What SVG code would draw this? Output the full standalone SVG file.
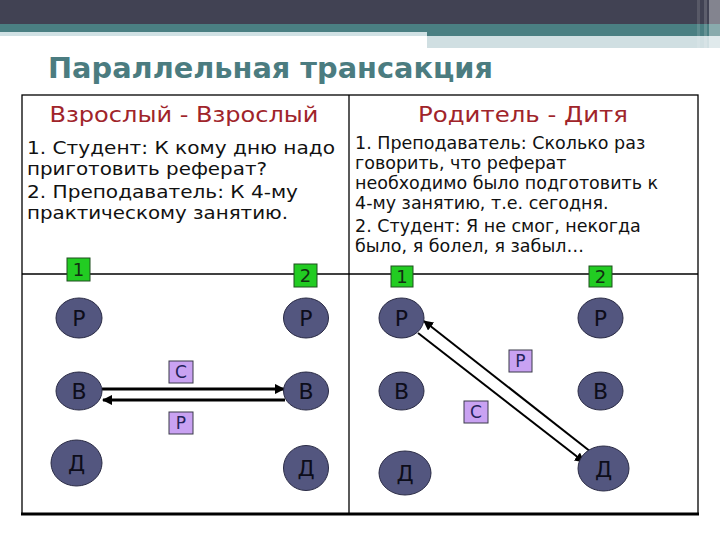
<svg xmlns="http://www.w3.org/2000/svg" width="720" height="540" viewBox="0 0 720 540">
<style>
text{font-family:"DejaVu Sans","Liberation Sans",sans-serif}
.title{font-size:27.5px;font-weight:bold;fill:#4b7c80}
.hd{font-size:21px;fill:#a0242a;text-anchor:middle}
.tl{font-size:18.5px;fill:#111}
.tr{font-size:17.5px;fill:#111}
.grid{stroke:#000;stroke-width:1.3;fill:none}
.node ellipse{fill:#53567f;stroke:#2a2b45;stroke-width:1}
.node text{font-size:22px;fill:#0d0d1a;text-anchor:middle}
.num rect{fill:#22cc22;stroke:#1f4f1f;stroke-width:1}
.num text{font-size:18px;fill:#123012;text-anchor:middle}
.lab rect{fill:#c9a2f2;stroke:#3a3a4a;stroke-width:1}
.lab text{font-size:17px;fill:#23235a;text-anchor:middle}
.thick{stroke:#000;stroke-width:3;fill:none}
.thin{stroke:#000;stroke-width:2;fill:none}
</style>
<defs>
<marker id="ah" viewBox="0 0 10 10" refX="9" refY="5" markerWidth="3.5" markerHeight="3.5" orient="auto-start-reverse" markerUnits="strokeWidth">
<path d="M0,0 L10,5 L0,10 Z" fill="#000"/>
</marker>
<marker id="ah2" viewBox="0 0 10 10" refX="9" refY="5" markerWidth="5" markerHeight="5" orient="auto-start-reverse" markerUnits="strokeWidth">
<path d="M0,0 L10,5 L0,10 Z" fill="#000"/>
</marker>
</defs>
<rect width="720" height="540" fill="#fff"/>
<g id="header">
<rect x="0" y="0" width="720" height="24" fill="#414253"/>
<rect x="0" y="24" width="427" height="8" fill="#4a7f82"/>
<rect x="0" y="32" width="427" height="4" fill="#d0e1e4"/>
<rect x="427" y="24" width="293" height="12" fill="#4a7f82"/>
<rect x="427" y="36" width="293" height="12" fill="#d0dfe2"/>
<rect x="697" y="0" width="3" height="48" fill="#fff" opacity="0.12"/>
<rect x="704" y="0" width="3" height="48" fill="#fff" opacity="0.15"/>
<rect x="709" y="0" width="11" height="48" fill="#fff" opacity="0.35"/>
</g>
<text class="title" x="48" y="78" textLength="445" lengthAdjust="spacingAndGlyphs">Параллельная трансакция</text>
<g id="table">
<rect class="grid" x="22" y="95" width="676" height="419"/>
<line class="grid" x1="349" y1="95" x2="349" y2="514"/>
<line class="grid" x1="22" y1="274" x2="698" y2="274"/>
<line x1="21" y1="514" x2="699" y2="514" stroke="#000" stroke-width="3"/>
</g>
<g id="text-left">
<text class="hd" x="184" y="122" textLength="269" lengthAdjust="spacingAndGlyphs">Взрослый - Взрослый</text>
<text class="tl" x="27" y="154" textLength="308" lengthAdjust="spacingAndGlyphs">1. Студент: К кому дню надо</text>
<text class="tl" x="27" y="175" textLength="240" lengthAdjust="spacingAndGlyphs">приготовить реферат?</text>
<text class="tl" x="27" y="198" textLength="271" lengthAdjust="spacingAndGlyphs">2. Преподаватель: К 4-му</text>
<text class="tl" x="27" y="219" textLength="261" lengthAdjust="spacingAndGlyphs">практическому занятию.</text>
</g>
<g id="text-right">
<text class="hd" x="523" y="122" textLength="210" lengthAdjust="spacingAndGlyphs">Родитель - Дитя</text>
<text class="tr" x="355" y="149">1. Преподаватель: Сколько раз</text>
<text class="tr" x="355" y="169">говорить, что реферат</text>
<text class="tr" x="355" y="189">необходимо было подготовить к</text>
<text class="tr" x="355" y="209">4-му занятию, т.е. сегодня.</text>
<text class="tr" x="355" y="232">2. Студент: Я не смог, некогда</text>
<text class="tr" x="355" y="252">было, я болел, я забыл…</text>
</g>
<g id="connectors">
<line class="thick" x1="102" y1="389" x2="284" y2="389" marker-end="url(#ah)"/>
<line class="thick" x1="285" y1="400" x2="103" y2="400" marker-end="url(#ah)"/>
<line class="thin" x1="591" y1="452" x2="424" y2="321" marker-end="url(#ah2)"/>
<line class="thin" x1="418" y1="333" x2="584" y2="462" marker-end="url(#ah2)"/>
</g>
<g id="num-l1" class="num"><rect x="67" y="258" width="23" height="23"/><text x="78.5" y="276">1</text></g>
<g id="num-l2" class="num"><rect x="294" y="264" width="23" height="23"/><text x="305.5" y="282">2</text></g>
<g id="num-r1" class="num"><rect x="391" y="266" width="22" height="21"/><text x="402" y="283">1</text></g>
<g id="num-r2" class="num"><rect x="589" y="266" width="23" height="21"/><text x="600.5" y="283">2</text></g>
<g id="l-P1" class="node"><ellipse cx="79" cy="318" rx="23" ry="20"/><text x="79" y="326">Р</text></g>
<g id="l-V1" class="node"><ellipse cx="79" cy="391" rx="23" ry="19"/><text x="79" y="399">В</text></g>
<g id="l-D1" class="node"><ellipse cx="76.5" cy="463" rx="25.5" ry="23"/><text x="76.5" y="471">Д</text></g>
<g id="l-P2" class="node"><ellipse cx="306" cy="318" rx="22.5" ry="20"/><text x="306" y="326">Р</text></g>
<g id="l-V2" class="node"><ellipse cx="306" cy="391" rx="22.5" ry="19"/><text x="306" y="399">В</text></g>
<g id="l-D2" class="node"><ellipse cx="306" cy="468" rx="22.5" ry="22.5"/><text x="306" y="476">Д</text></g>
<g id="r-P1" class="node"><ellipse cx="401.5" cy="318" rx="22.5" ry="20"/><text x="401.5" y="326">Р</text></g>
<g id="r-V1" class="node"><ellipse cx="401.5" cy="391" rx="22.5" ry="19"/><text x="401.5" y="399">В</text></g>
<g id="r-D1" class="node"><ellipse cx="405" cy="473" rx="26" ry="22"/><text x="405" y="481">Д</text></g>
<g id="r-P2" class="node"><ellipse cx="600.5" cy="318" rx="22.5" ry="20"/><text x="600.5" y="326">Р</text></g>
<g id="r-V2" class="node"><ellipse cx="600.5" cy="391" rx="22.5" ry="19"/><text x="600.5" y="399">В</text></g>
<g id="r-D2" class="node"><ellipse cx="603.5" cy="468.5" rx="25.5" ry="22.5"/><text x="603.5" y="476.5">Д</text></g>
<g id="lab-l-C" class="lab"><rect x="169" y="361" width="24" height="22"/><text x="181" y="378">С</text></g>
<g id="lab-l-P" class="lab"><rect x="169" y="412" width="24" height="22"/><text x="181" y="429">Р</text></g>
<g id="lab-r-P" class="lab"><rect x="509" y="350" width="23" height="22"/><text x="520.5" y="367">Р</text></g>
<g id="lab-r-C" class="lab"><rect x="464" y="401" width="24" height="22"/><text x="476" y="418">С</text></g>
</svg>
